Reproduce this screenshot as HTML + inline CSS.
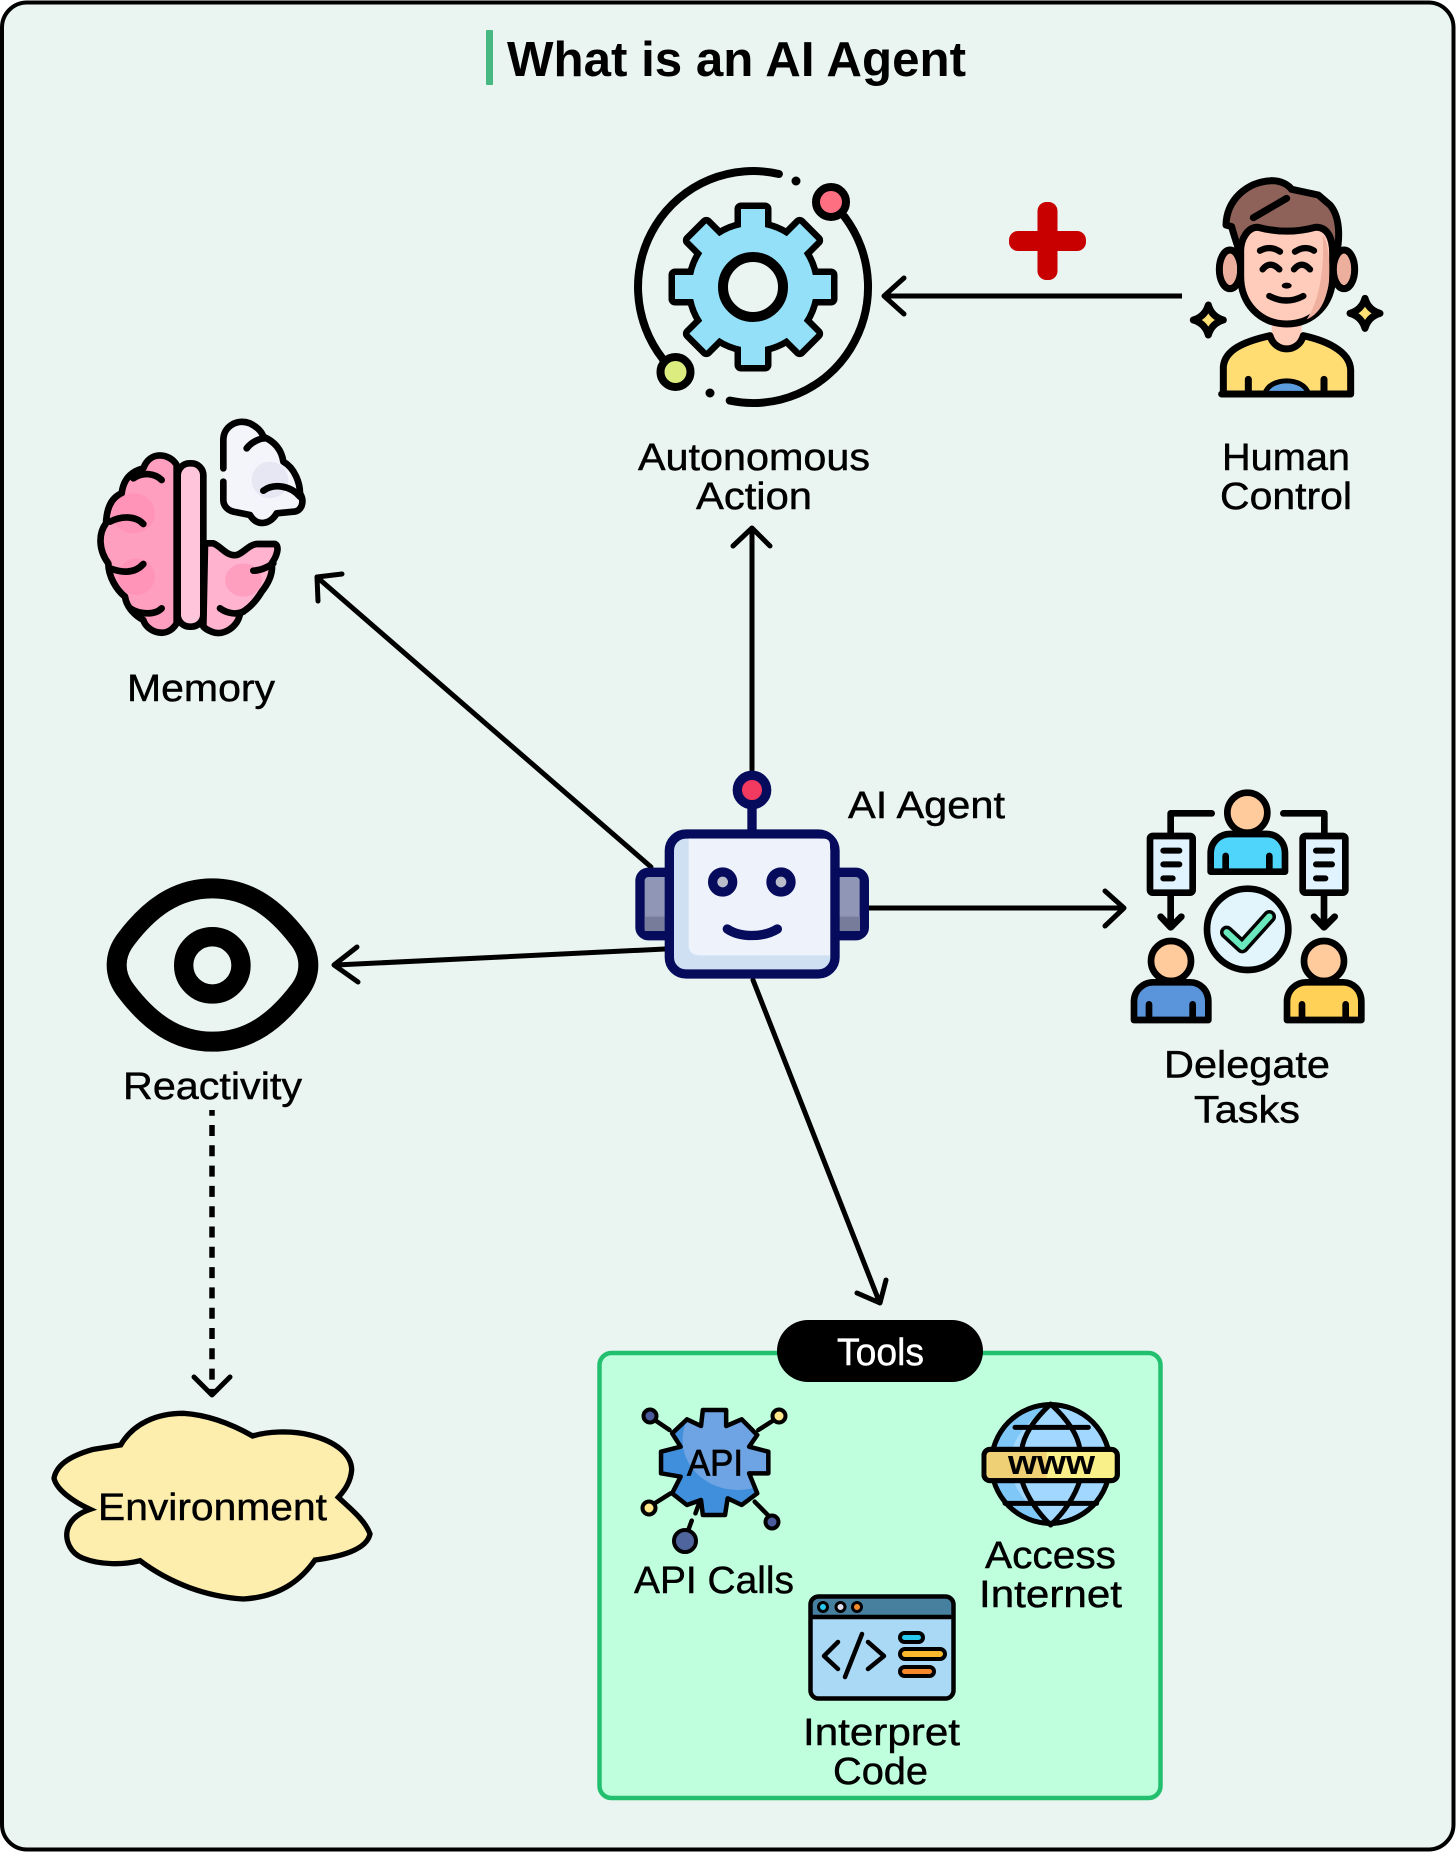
<!DOCTYPE html>
<html>
<head>
<meta charset="utf-8">
<style>
html,body{margin:0;padding:0;background:#fff}
svg{display:block}
text{font-family:"Liberation Sans",sans-serif;fill:#000;stroke:#000;stroke-width:.45px}
.nss *{vector-effect:non-scaling-stroke}
.a{fill:none;stroke:#000;stroke-width:5;stroke-linecap:round;stroke-linejoin:round}
</style>
</head>
<body>
<svg width="1456" height="1852" viewBox="0 0 1456 1852" xmlns="http://www.w3.org/2000/svg">
<defs>
<g id="gr">
<circle cx="753" cy="287" r="61"/>
<rect x="741" y="209" width="24" height="156"/>
<rect x="675" y="275" width="156" height="24"/>
<rect x="741" y="209" width="24" height="156" transform="rotate(45 753 287)"/>
<rect x="741" y="209" width="24" height="156" transform="rotate(-45 753 287)"/>
</g>
<clipPath id="apiClip"><polygon points="305,330 368,330 368,378 410,358 452,405 430,440 482,455 482,520 430,520 452,580 410,615 372,595 365,645 305,645 300,600 262,615 222,580 245,530 192,520 192,455 245,440 222,400 262,358 300,378"/></clipPath>
</defs>

<!-- frame -->
<rect x="2" y="2.5" width="1451.5" height="1847" rx="25" fill="#eaf4f0" stroke="#000" stroke-width="4"/>

<!-- title -->
<rect x="486" y="30" width="7" height="55" rx="1" fill="#47b881"/>
<text x="507" y="76" font-size="49" font-weight="bold" textLength="459" lengthAdjust="spacingAndGlyphs" style="stroke-width:0">What is an AI Agent</text>

<!-- autonomous gear -->
<path d="M778.900 174 A115 116 0 0 0 662.600 358.700" fill="none" stroke="#000" stroke-width="8" stroke-linecap="round"/>
<path d="M844.500 216.700 A115 116 0 0 1 729.700 400.600" fill="none" stroke="#000" stroke-width="8" stroke-linecap="round"/>
<circle cx="796" cy="181" r="4.500" fill="#000"/>
<circle cx="710" cy="393" r="4.500" fill="#000"/>
<circle cx="831" cy="202" r="15" fill="#ff6f82" stroke="#000" stroke-width="8"/>
<circle cx="675.500" cy="372" r="15" fill="#dcec7e" stroke="#000" stroke-width="8"/>
<use href="#gr" fill="#000" stroke="#000" stroke-width="13" stroke-linejoin="round"/>
<use href="#gr" fill="#93e0f8"/>
<circle cx="753" cy="287" r="30" fill="#eaf4f0" stroke="#000" stroke-width="10"/>

<text x="638" y="470" font-size="38" textLength="232" lengthAdjust="spacingAndGlyphs">Autonomous</text>
<text x="696" y="509" font-size="38" textLength="116" lengthAdjust="spacingAndGlyphs">Action</text>

<!-- plus -->
<rect x="1009" y="231" width="77" height="20" rx="9" fill="#c80000"/>
<rect x="1037.500" y="202" width="20" height="78" rx="9" fill="#c80000"/>

<!-- human arrow -->
<path class="a" style="stroke-linecap:butt" d="M1182 296 H885"/>
<path class="a" d="M904 278 L884 296 L904 314"/>

<!-- human -->
<g transform="translate(1190,170) scale(.33333)" stroke="#000" stroke-width="21" stroke-linejoin="round" stroke-linecap="round">
<ellipse cx="120" cy="298" rx="32" ry="58" fill="#ecaf9e"/>
<ellipse cx="462" cy="298" rx="32" ry="58" fill="#ecaf9e"/>
<path d="M108 165 C110 90 170 35 245 32 C275 32 295 45 305 58 L385 75 L420 105 C450 140 450 200 440 250 L150 250 C140 220 130 190 125 170 Z" fill="#8e6259"/>
<path d="M245 450 L245 510 Q290 555 335 510 L335 450 Z" fill="#ffccbc" stroke="none"/>
<path d="M152 250 C150 205 175 170 205 172 Q290 195 375 172 C410 170 428 200 428 250 L428 320 C428 400 370 462 290 462 C210 462 152 400 152 320 Z" fill="#ffccbc"/>
<path d="M398 195 C418 220 420 290 416 335 C410 395 385 435 350 448 C385 400 405 300 398 195 Z" fill="#f0b0a0" stroke="none"/>
<path d="M190 143 L290 85" fill="none"/>
<path d="M210 242 Q240 225 270 245 M315 245 Q345 225 372 242 M218 298 Q240 270 268 298 M312 298 Q335 270 360 298 M238 378 Q290 405 340 378" fill="none" stroke-width="19"/>
<ellipse cx="290" cy="347" rx="15" ry="9" fill="#000" stroke="none"/>
<path d="M100 670 L100 590 C105 540 160 515 240 497 C255 550 325 550 340 497 C400 510 480 540 482 600 L482 672 L95 672" fill="#ffdd73"/>
<path d="M225 670 C240 620 340 620 355 670 Z" fill="#5b9cdf" stroke-width="15"/>
<path d="M175 628 V668 M402 628 V668" fill="none"/>
<path d="M55 405 Q65 440 100 450 Q65 460 55 495 Q45 460 10 450 Q45 440 55 405 Z" fill="#ffe074"/>
<path d="M525 385 Q535 420 570 430 Q535 440 525 475 Q515 440 480 430 Q515 420 525 385 Z" fill="#ffe074"/>
</g>
<text x="1222" y="470" font-size="38" textLength="128" lengthAdjust="spacingAndGlyphs">Human</text>
<text x="1220" y="509" font-size="38" textLength="132" lengthAdjust="spacingAndGlyphs">Control</text>

<!-- memory -->
<g transform="translate(80,400) scale(.33333)" stroke="#000" stroke-width="20" stroke-linecap="round" stroke-linejoin="round">
<path d="M290 195 C270 160 210 150 190 205 C150 215 130 240 125 280 C90 295 80 330 78 370 C55 400 55 450 85 490 C85 530 110 570 135 590 C140 625 170 650 190 660 C200 695 260 720 290 670 Z" fill="#ff9fc0"/>
<path d="M375 430 L400 430 C425 440 440 470 470 465 C490 460 510 430 535 432 L585 432 C600 440 590 470 575 490 C580 520 565 550 545 575 C530 600 510 625 480 640 C475 680 430 710 395 695 C380 690 370 680 370 680 Z" fill="#ffb3cf"/>
<ellipse cx="490" cy="540" rx="55" ry="50" fill="#ff9fc0" stroke="none"/>
<ellipse cx="160" cy="340" rx="65" ry="60" fill="#ff8db3" stroke="none" opacity=".6"/>
<ellipse cx="170" cy="530" rx="55" ry="55" fill="#ff8db3" stroke="none" opacity=".6"/>
<path d="M245 240 C225 220 190 215 160 235 M190 372 C170 350 130 345 90 365 M190 492 C165 520 130 520 90 505 M245 625 C225 645 180 645 150 625 M520 512 C545 512 565 500 580 490 M420 625 C440 640 470 645 490 635" fill="none"/>
<rect x="293" y="190" width="77" height="490" rx="36" fill="#ffc6db"/>
<path d="M430 205 L430 120 C430 80 470 55 510 70 C530 80 545 95 550 110 C585 125 605 150 610 185 C645 205 660 250 660 280 C675 305 665 335 640 335 L590 340 C570 375 530 380 510 345 L460 335 C440 330 430 315 430 300 L430 245" fill="#f4f5fb"/>
<ellipse cx="570" cy="240" rx="55" ry="55" fill="#e6e7f3" stroke="none"/>
<path d="M500 145 C515 125 540 115 555 115 M550 272 C580 250 630 255 660 290" fill="none"/>
</g>
<text x="127" y="701" font-size="38" textLength="148" lengthAdjust="spacingAndGlyphs">Memory</text>

<!-- arrows from robot -->
<path class="a" d="M752 770 V530 M733 546 L752 528 L770 546"/>
<path class="a" d="M651 867 L318 578 M342 574 L317 577 L318 601"/>
<path class="a" d="M665 949 L336 965 M357 947 L334 965 L358 982"/>
<path class="a" d="M868 908 H1122 M1105 891 L1124 908 L1105 926"/>
<path class="a" d="M753 980 L879 1301 M886 1280 L880 1303 L857 1293"/>
<path d="M212 1110 V1392" fill="none" stroke="#000" stroke-width="5.500" stroke-dasharray="11 9.300" stroke-dashoffset="5.300"/>
<path class="a" d="M194 1377 L212 1395 L230 1377"/>

<!-- robot -->
<g transform="translate(610,760) scale(.33333)" stroke="#060b5c" stroke-width="28" stroke-linecap="round" stroke-linejoin="round">
<path d="M426 130 V220" fill="none"/>
<circle cx="426" cy="90" r="44" fill="#f2395f"/>
<rect x="90" y="337" width="100" height="190" rx="25" fill="#8f96b6"/>
<rect x="665" y="337" width="98" height="190" rx="25" fill="#8f96b6"/>
<rect x="104" y="470" width="62" height="43" fill="#767c9a" stroke="none"/>
<rect x="688" y="470" width="62" height="43" fill="#767c9a" stroke="none"/>
<rect x="178" y="222" width="497" height="420" rx="50" fill="#cfe0f3"/>
<path d="M236 236 H640 Q660 236 660 256 V586 H270 Q236 586 236 555 Z" fill="#eef2fb" stroke="none"/>
<circle cx="338" cy="366" r="30" fill="#b9bdc9"/>
<circle cx="513" cy="366" r="30" fill="#b9bdc9"/>
<path d="M352 507 C390 533 460 533 502 507" fill="none"/>
</g>
<text x="848" y="818" font-size="38" textLength="157" lengthAdjust="spacingAndGlyphs">AI Agent</text>

<!-- delegate -->
<g transform="translate(1110,770) scale(.33333)" stroke="#000" stroke-width="20" stroke-linecap="round" stroke-linejoin="round">
<path d="M305 130 H182 V198 M520 130 H643 V198 M182 368 V470 M152 440 L182 472 L214 440 M642 368 V470 M612 440 L642 472 L674 440" fill="none"/>
<rect x="120" y="198" width="128" height="170" rx="8" fill="#e0f3ff"/>
<rect x="578" y="198" width="128" height="170" rx="8" fill="#e0f3ff"/>
<path d="M160 242 H208 M160 283 H208 M160 325 H188 M618 242 H666 M618 283 H666 M618 325 H646" fill="none" stroke-width="18"/>
<path d="M302 305 V250 C302 215 330 192 360 192 H470 C500 192 525 215 525 250 V305 H302 Z" fill="#4fd4fb"/>
<path d="M347 258 V300 M478 258 V300" fill="none"/>
<circle cx="412" cy="128" r="60" fill="#ffcb9c"/>
<path d="M72 750 V695 C72 660 100 637 130 637 H240 C270 637 295 660 295 695 V750 Z" fill="#5a94da"/>
<path d="M117 703 V745 M248 703 V745" fill="none"/>
<circle cx="183" cy="573" r="60" fill="#ffcb9c"/>
<path d="M531 750 V695 C531 660 559 637 589 637 H699 C729 637 754 660 754 695 V750 Z" fill="#ffd257"/>
<path d="M576 703 V745 M707 703 V745" fill="none"/>
<circle cx="642" cy="573" r="60" fill="#ffcb9c"/>
<circle cx="413" cy="478" r="122" fill="#e2f5fd"/>
<path d="M350 487 L397 530 L478 440" fill="none" stroke-width="40"/>
<path d="M350 487 L397 530 L478 440" fill="none" stroke="#69e9bd" stroke-width="19"/>
</g>
<text x="1164" y="1077.500" font-size="38" textLength="166" lengthAdjust="spacingAndGlyphs">Delegate</text>
<text x="1194" y="1122.500" font-size="38" textLength="106" lengthAdjust="spacingAndGlyphs">Tasks</text>

<!-- eye -->
<g transform="translate(90,860) scale(.33333)" fill="none" stroke="#000">
<path stroke-width="60" d="M367 85 C480 85 560 150 625 235 C665 285 665 345 625 395 C560 480 480 545 367 545 C255 545 175 480 110 395 C70 345 70 285 110 235 C175 150 255 85 367 85 Z"/>
<circle cx="367" cy="316" r="86" stroke-width="58"/>
</g>
<text x="123" y="1099" font-size="38" textLength="179" lengthAdjust="spacingAndGlyphs">Reactivity</text>

<!-- environment -->
<g transform="translate(30,1380) scale(.33333)">
<path fill="#fdeeae" stroke="#000" stroke-width="16" stroke-linejoin="miter" d="M272 195 C310 130 380 100 460 100 C540 105 610 135 668 168 C710 155 780 150 840 165 C920 185 965 225 965 270 C962 305 945 330 925 352 C960 385 1005 420 1020 462 C1010 510 930 530 855 540 C820 590 760 650 640 657 C530 650 420 610 330 542 C280 555 210 555 160 535 C120 520 105 480 112 450 C120 420 145 400 180 388 C130 365 80 330 72 295 C80 250 130 225 190 208 Z"/>
</g>
<text x="98" y="1520" font-size="38" textLength="229" lengthAdjust="spacingAndGlyphs">Environment</text>

<!-- tools -->
<rect x="599.500" y="1353" width="561" height="445" rx="12" fill="#c0ffde" stroke="#22c06e" stroke-width="4.500"/>
<rect x="777" y="1320" width="206" height="62" rx="31" fill="#000"/>
<text x="837" y="1365" font-size="38" style="fill:#fff;stroke:#fff" textLength="87" lengthAdjust="spacingAndGlyphs">Tools</text>

<!-- api icon -->
<g class="nss" transform="translate(590,1300) scale(.37,.33333)" stroke="#000" stroke-width="4.500" stroke-linecap="round" stroke-linejoin="round">
<path d="M215 390 L175 360 M455 390 L500 358 M218 580 L172 612 M445 605 L485 650 M298 600 L285 640 M275 662 L265 692" fill="none"/>
<polygon fill="#3f8fdd" stroke="none" points="305,330 368,330 368,378 410,358 452,405 430,440 482,455 482,520 430,520 452,580 410,615 372,595 365,645 305,645 300,600 262,615 222,580 245,530 192,520 192,455 245,440 222,400 262,358 300,378"/>
<g clip-path="url(#apiClip)"><circle cx="400" cy="420" r="150" fill="#6ea4e4" stroke="none"/></g>
<polygon fill="none" points="305,330 368,330 368,378 410,358 452,405 430,440 482,455 482,520 430,520 452,580 410,615 372,595 365,645 305,645 300,600 262,615 222,580 245,530 192,520 192,455 245,440 222,400 262,358 300,378"/>
</g>
<circle cx="650" cy="1416" r="6.500" fill="#4a5a9a" stroke="#000" stroke-width="4"/>
<circle cx="779" cy="1416" r="6.500" fill="#ffe68a" stroke="#000" stroke-width="4"/>
<circle cx="649" cy="1508" r="6.500" fill="#ffe68a" stroke="#000" stroke-width="4"/>
<circle cx="772" cy="1522" r="6.500" fill="#4a5a9a" stroke="#000" stroke-width="4"/>
<circle cx="685" cy="1541" r="11" fill="#4e659e" stroke="#000" stroke-width="4"/>
<text x="687" y="1475.500" font-size="37" textLength="56" lengthAdjust="spacingAndGlyphs" style="stroke-width:.8px">API</text>
<text x="634" y="1593" font-size="38" textLength="160" lengthAdjust="spacingAndGlyphs">API Calls</text>

<!-- globe -->
<g transform="translate(960,1390) scale(.33333)" stroke="#000" stroke-width="15" stroke-linecap="round" stroke-linejoin="round">
<circle cx="272" cy="222" r="178" fill="#a2d8ff"/>
<path d="M272 44 A178 178 0 0 0 272 400 C190 340 150 280 150 222 C150 160 190 100 272 44 Z" fill="#7fc7f7" stroke="none"/>
<path d="M272 42 C215 95 190 140 185 180 M185 270 C200 320 235 370 272 405 M272 42 C330 95 355 140 360 180 M360 270 C345 320 310 370 272 405 M165 112 H385 M135 340 H410" fill="none"/>
<circle cx="272" cy="222" r="178" fill="none"/>
<rect x="72" y="178" width="400" height="94" rx="18" fill="#faf08a"/>
<path d="M82 186 H260 V264 H82 Z" fill="#f0d074" stroke="none"/>
<rect x="72" y="178" width="400" height="94" rx="18" fill="none"/>
</g>
<text x="1008" y="1474" font-size="34" font-weight="bold" textLength="87" lengthAdjust="spacingAndGlyphs" style="stroke-width:0">www</text>
<text x="985" y="1568" font-size="38" textLength="131" lengthAdjust="spacingAndGlyphs">Access</text>
<text x="979" y="1607" font-size="38" textLength="143" lengthAdjust="spacingAndGlyphs">Internet</text>

<!-- code window -->
<rect x="810.500" y="1596.500" width="143" height="102" rx="8" fill="#aad9f5"/>
<path d="M810.500 1617 V1604 Q810.500 1596.500 818 1596.500 H946 Q953.500 1596.500 953.500 1604 V1617 Z" fill="#477f9f"/>
<rect x="810.500" y="1596.500" width="143" height="102" rx="8" fill="none" stroke="#000" stroke-width="4.500"/>
<path d="M811 1617 H953" stroke="#000" stroke-width="4.500"/>
<circle cx="823" cy="1607" r="4.500" fill="#28c9ef" stroke="#000" stroke-width="3"/>
<circle cx="840.500" cy="1607" r="4.500" fill="#dde" stroke="#000" stroke-width="3"/>
<circle cx="857" cy="1607" r="4.500" fill="#f5892a" stroke="#000" stroke-width="3"/>
<path d="M838 1642 L824 1656 L838 1669 M862 1634 L845 1677 M868 1642 L884 1656 L868 1669" fill="none" stroke="#000" stroke-width="4.500" stroke-linecap="round" stroke-linejoin="round"/>
<rect x="900" y="1633" width="23" height="9" rx="4.500" fill="#28c9ef" stroke="#000" stroke-width="4"/>
<rect x="900" y="1649" width="45" height="10" rx="5" fill="#fdb92e" stroke="#000" stroke-width="4"/>
<rect x="900" y="1667" width="34" height="9" rx="4.500" fill="#f5892a" stroke="#000" stroke-width="4"/>
<text x="803" y="1745" font-size="38" textLength="157" lengthAdjust="spacingAndGlyphs">Interpret</text>
<text x="833" y="1784" font-size="38" textLength="95" lengthAdjust="spacingAndGlyphs">Code</text>
</svg>
</body>
</html>
